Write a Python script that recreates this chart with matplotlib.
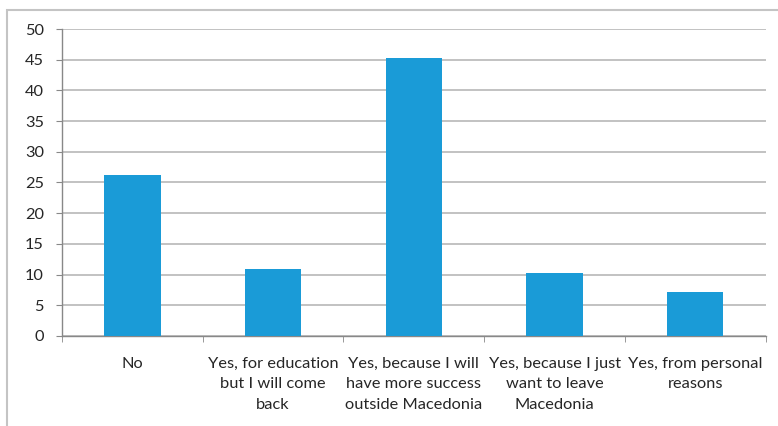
import matplotlib.pyplot as plt
from matplotlib.patches import Rectangle

# ---------------------------
# Data
# ---------------------------
categories = [
    "No",
    "Yes, for education\nbut I will come\nback",
    "Yes, because I will\nhave more success\noutside Macedonia",
    "Yes, because I just\nwant to leave\nMacedonia",
    "Yes, from personal\nreasons",
]
values = [26.3, 10.9, 45.3, 10.3, 7.1]
y_ticks = [0, 5, 10, 15, 20, 25, 30, 35, 40, 45, 50]

# ---------------------------
# Plot
# ---------------------------
plt.rcParams["font.family"] = ["Lato", "DejaVu Sans"]

fig = plt.figure(figsize=(7.78, 4.26), dpi=100)
ax = fig.add_axes([0.0797, 0.2113, 0.9045, 0.7206])

# outer chart frame
fig.patches.append(Rectangle((7 / 778, -0.1), 1.2, 1 - 10 / 426 + 0.1,
                             transform=fig.transFigure, fill=False,
                             edgecolor="#c4c4c4", linewidth=1.5))

x = list(range(len(categories)))
ax.bar(x, values, width=0.4, color="#1a9bd7", zorder=3)

ax.set_xlim(-0.5, len(categories) - 0.5)
ax.set_ylim(0, 50)
ax.set_yticks(y_ticks)
ax.yaxis.grid(True, color="#b8b8b8", linewidth=1.2, zorder=0)
ax.set_axisbelow(True)

ax.set_xticks(x)
ax.set_xticklabels(categories, fontsize=11.8, color="#262626", linespacing=1.6)
ax.tick_params(axis="x", length=0, pad=15)
ax.set_xticks([i - 0.5 for i in range(len(categories) + 1)], minor=True)
ax.tick_params(axis="x", which="minor", length=4, color="#888888")
ax.tick_params(axis="y", labelsize=11.8, labelcolor="#262626", length=4,
               color="#888888", pad=9)

for side in ["top", "right"]:
    ax.spines[side].set_visible(False)
for side in ["left", "bottom"]:
    ax.spines[side].set_color("#888888")
    ax.spines[side].set_linewidth(1.0)

plt.savefig("out.png", dpi=100)
